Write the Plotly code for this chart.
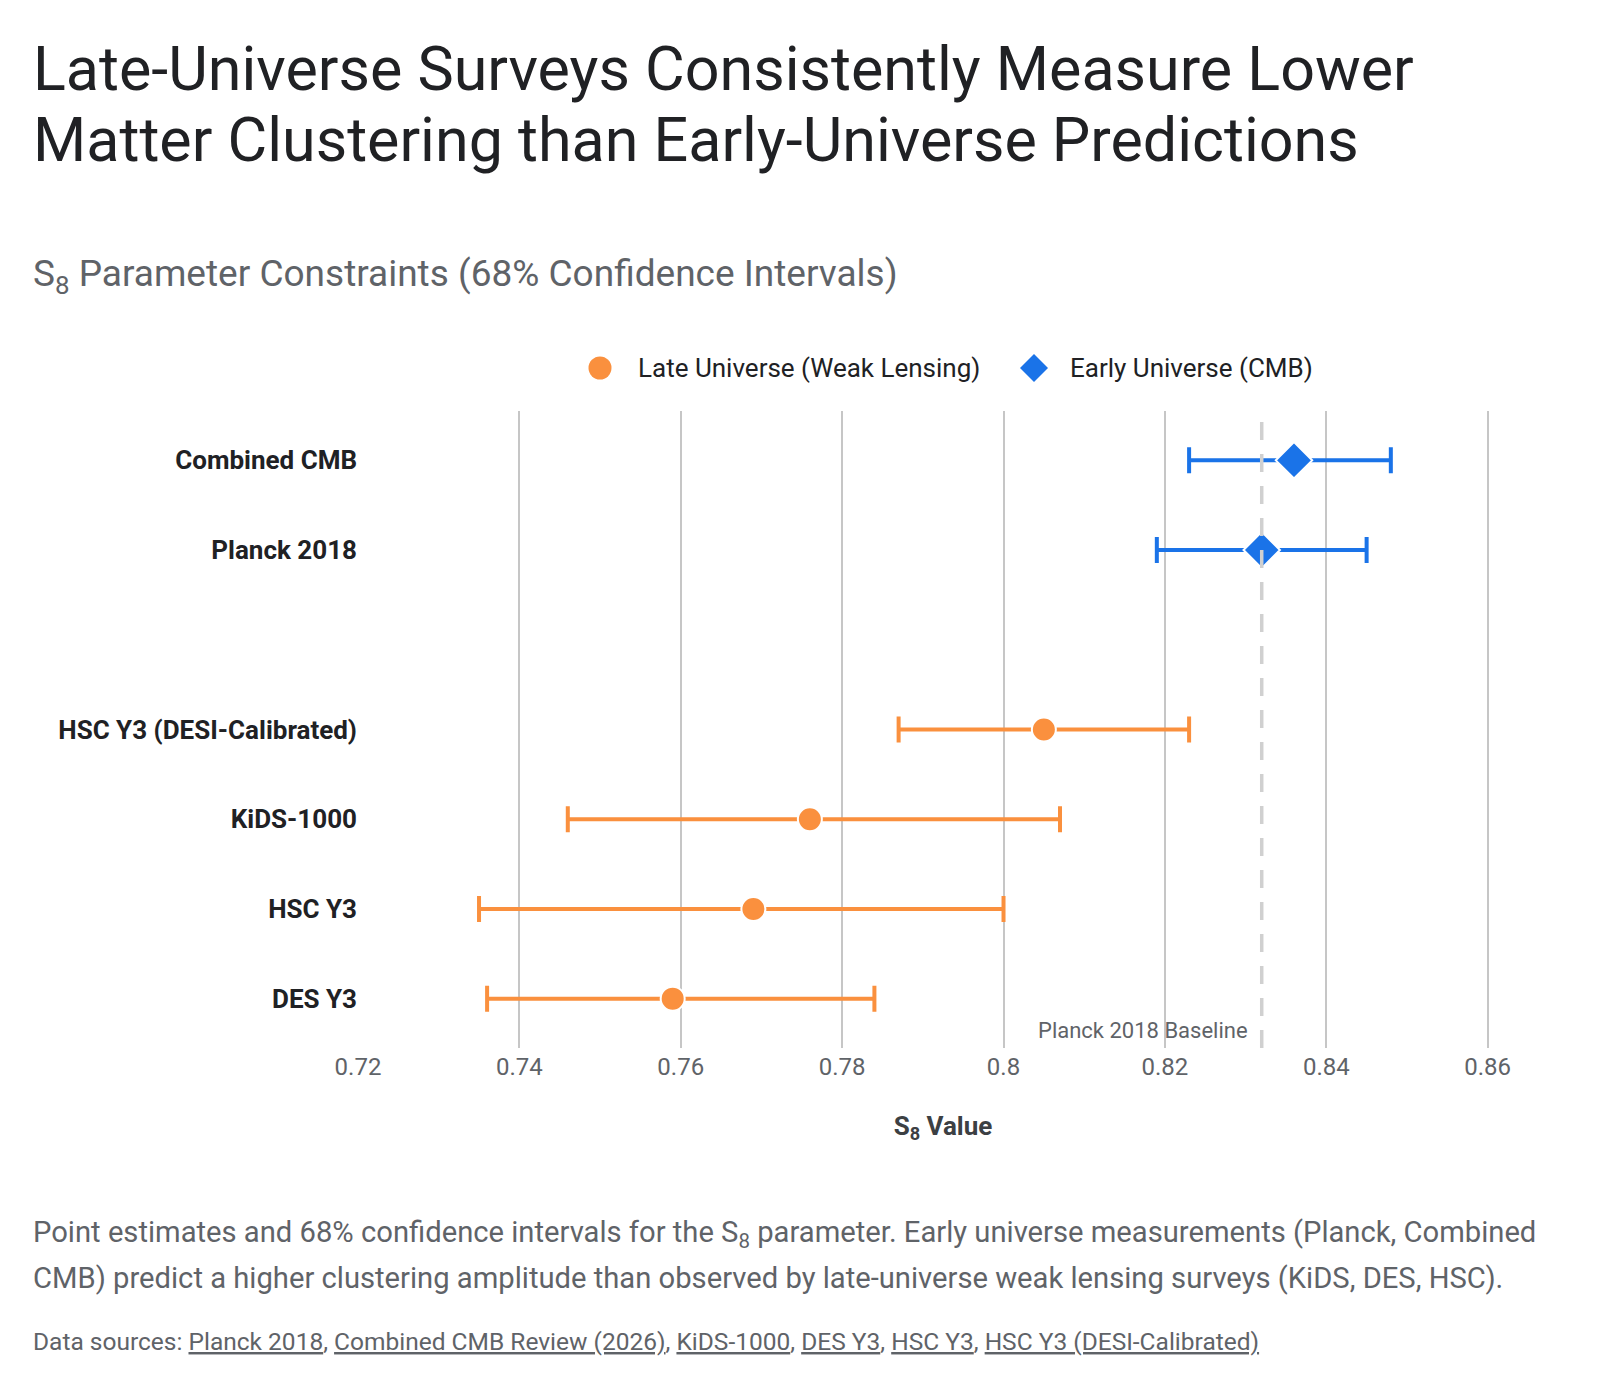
import plotly.graph_objects as go

# S8 constraints (point estimate, upper / lower 68% errors)
late_names = ["DES Y3", "HSC Y3", "KiDS-1000", "HSC Y3 (DESI-Calibrated)"]
late_s8 = [0.759, 0.769, 0.776, 0.805]
late_plus = [0.025, 0.031, 0.031, 0.018]
late_minus = [0.023, 0.034, 0.030, 0.018]

early_names = ["Planck 2018", "Combined CMB"]
early_s8 = [0.832, 0.836]
early_plus = [0.013, 0.012]
early_minus = [0.013, 0.013]

planck_baseline = 0.832

# bottom -> top, with an empty slot between the two groups
row_order = ["DES Y3", "HSC Y3", "KiDS-1000", "HSC Y3 (DESI-Calibrated)", " ",
             "Planck 2018", "Combined CMB"]

x_tick_vals = [0.72, 0.74, 0.76, 0.78, 0.80, 0.82, 0.84, 0.86]
x_tick_text = ["0.72", "0.74", "0.76", "0.78", "0.8", "0.82", "0.84", "0.86"]
x_range = [0.72, 0.865]

late_label = "Late Universe (Weak Lensing)"
early_label = "Early Universe (CMB)"

ORANGE = "#FA903E"
BLUE = "#1A73E8"
DARK = "#202124"
GREY = "#5F6368"
FONT = "Roboto, sans-serif"

W, H = 1600, 1390
L, T, B = 350, 403, 350
R = W - L - round(1130 * (x_range[1] - x_range[0]) / 0.14)


def px(x, y):
    # pixel position on the page -> paper coordinates
    return (x - L) / (W - L - R), (H - B - y) / (H - T - B)


fig = go.Figure()

fig.add_trace(go.Scatter(
    x=late_s8, y=late_names, mode="markers", name=late_label,
    marker=dict(symbol="circle", size=24, color=ORANGE, line=dict(color="white", width=2)),
    error_x=dict(type="data", symmetric=False, array=late_plus, arrayminus=late_minus,
                 color=ORANGE, thickness=4, width=13),
))

fig.add_trace(go.Scatter(
    x=early_s8, y=early_names, mode="markers", name=early_label,
    marker=dict(symbol="diamond", size=28, color=BLUE, line=dict(color="white", width=2)),
    error_x=dict(type="data", symmetric=False, array=early_plus, arrayminus=early_minus,
                 color=BLUE, thickness=4, width=13),
))

shapes = [dict(type="line", xref="x", yref="paper", x0=planck_baseline, x1=planck_baseline,
               y0=0, y1=1, line=dict(color="#D0D0D0", width=3.5, dash="18px,14px"), layer="above")]

# legend drawn by hand so the symbols can be as large as in the design
cx, cy = px(592, 360)
shapes.append(dict(type="circle", xref="paper", yref="paper", xsizemode="pixel", ysizemode="pixel",
                   xanchor=cx, yanchor=cy, x0=-11.5, x1=11.5, y0=-11.5, y1=11.5,
                   fillcolor=ORANGE, line=dict(width=0)))
dx, dy = px(1026, 360)
shapes.append(dict(type="path", xref="paper", yref="paper", xsizemode="pixel", ysizemode="pixel",
                   xanchor=dx, yanchor=dy, path="M 0,-14 L 14,0 L 0,14 L -14,0 Z",
                   fillcolor=BLUE, line=dict(width=0)))

annotations = []
for label, xpx in [(late_label, 628), (early_label, 1060)]:
    x0, y0 = px(xpx, 360)
    annotations.append(dict(x=x0, y=y0, xref="paper", yref="paper", xanchor="left", yanchor="middle",
                            showarrow=False, text=label, font=dict(size=26, color=DARK, family=FONT)))

annotations.append(dict(x=planck_baseline, y=0, xref="x", yref="paper", xanchor="right",
                        yanchor="bottom", xshift=-12, yshift=3, showarrow=False,
                        text="Planck 2018 Baseline", font=dict(size=22, color=GREY, family=FONT)))

title_lines = ["Late-Universe Surveys Consistently Measure Lower",
               "Matter Clustering than Early-Universe Predictions"]
for line, ypx in zip(title_lines, [61, 132]):
    x0, y0 = px(23, ypx)
    annotations.append(dict(x=x0, y=y0, xref="paper", yref="paper", xanchor="left", yanchor="middle",
                            showarrow=False, text=line, font=dict(size=61, color=DARK, family=FONT)))

x0, y0 = px(23, 268)
annotations.append(dict(x=x0, y=y0, xref="paper", yref="paper", xanchor="left", yanchor="middle",
                        showarrow=False,
                        text="S<sub>8</sub> Parameter Constraints (68% Confidence Intervals)",
                        font=dict(size=37, color=GREY, family=FONT)))

caption = [
    "Point estimates and 68% confidence intervals for the S<sub>8</sub> parameter. Early universe measurements (Planck, Combined",
    "CMB) predict a higher clustering amplitude than observed by late-universe weak lensing surveys (KiDS, DES, HSC).",
]
for line, ypx in zip(caption, [1226, 1270]):
    x0, y0 = px(23, ypx)
    annotations.append(dict(x=x0, y=y0, xref="paper", yref="paper", xanchor="left", yanchor="middle",
                            showarrow=False, text=line, font=dict(size=29.2, color=GREY, family=FONT)))

sources = ["Planck 2018", "Combined CMB Review (2026)", "KiDS-1000", "DES Y3", "HSC Y3",
           "HSC Y3 (DESI-Calibrated)"]
src_text = "Data sources: " + ", ".join(
    f'<span style="text-decoration:underline">{s}</span>' for s in sources)
x0, y0 = px(23, 1333)
annotations.append(dict(x=x0, y=y0, xref="paper", yref="paper", xanchor="left", yanchor="middle",
                        showarrow=False, text=src_text, font=dict(size=24.5, color=GREY, family=FONT)))

fig.update_layout(
    width=W, height=H,
    margin=dict(l=L, r=R, t=T, b=B),
    paper_bgcolor="white", plot_bgcolor="white",
    font=dict(family=FONT, color=DARK),
    showlegend=False,
    shapes=shapes,
    annotations=annotations,
    xaxis=dict(
        range=x_range, tickvals=x_tick_vals, ticktext=x_tick_text,
        showgrid=True, gridcolor="#C6C6C6", gridwidth=1.5, zeroline=False, showline=False,
        tickfont=dict(size=24, color=GREY), ticklabelstandoff=2,
        title=dict(text="<b>S<sub>8</sub> Value</b>", font=dict(size=26, color="#3C4043"), standoff=36),
    ),
    yaxis=dict(
        type="category", categoryorder="array", categoryarray=row_order,
        range=[-0.55, 6.55], showgrid=False, zeroline=False, showline=False,
        tickfont=dict(size=26, color=DARK, family=FONT),
        ticklabelstandoff=0,
    ),
)
fig.update_yaxes(tickvals=row_order, ticktext=[f"<b>{n}</b>" for n in row_order])

fig.write_html("out.html")
